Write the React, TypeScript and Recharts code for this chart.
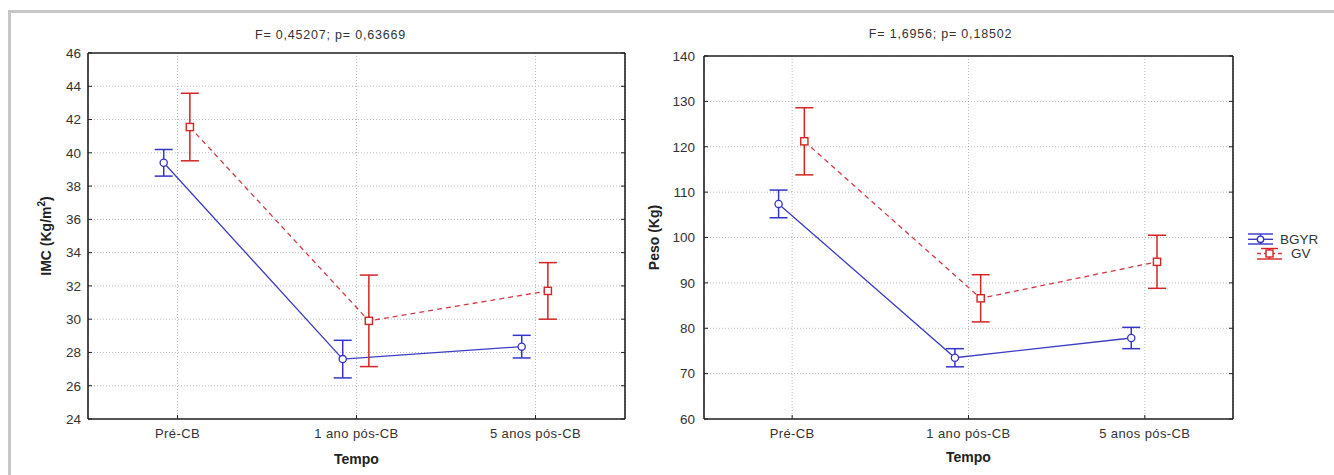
import React from 'react';
import {
  ComposedChart,
  Line,
  XAxis,
  YAxis,
  CartesianGrid,
  ErrorBar,
  Legend,
} from 'recharts';

const categories = ['Pré-CB', '1 ano pós-CB', '5 anos pós-CB'];
const seriesNames = ['BGYR', 'GV'];

const imcBGYR = [39.4, 27.6, 28.35];
const imcBGYRErr = [0.8, 1.13, 0.68];
const imcGV = [41.55, 29.9, 31.7];
const imcGVErr = [2.03, 2.75, 1.7];

const pesoBGYR = [107.4, 73.5, 77.85];
const pesoBGYRErr = [3.05, 2.0, 2.35];
const pesoGV = [121.2, 86.6, 94.65];
const pesoGVErr = [7.4, 5.2, 5.85];

const imcTicks = [24, 26, 28, 30, 32, 34, 36, 38, 40, 42, 44, 46];
const pesoTicks = [60, 70, 80, 90, 100, 110, 120, 130, 140];

const imcTitle = 'F= 0,45207; p= 0,63669';
const pesoTitle = 'F= 1,6956; p= 0,18502';

const FONT = "'Liberation Sans', Arial, sans-serif";
const BLUE = '#3c3cc4';
const BLUE_BAR = '#3434cc';
const RED = '#cf3a48';
const RED_BAR = '#d42424';
const AXIS = '#222';

const OFF_B = -0.077;
const OFF_G = 0.069;

const build = (vals: number[], errs: number[], off: number) =>
  categories.map((c, i) => ({ x: i + off, y: vals[i], err: errs[i], cat: c }));

const CircleDot = (p: any) => (
  <circle key={`c-${p.index}`} cx={p.cx} cy={p.cy} r={3.6} fill="#fff" stroke={BLUE_BAR} strokeWidth={1.3} />
);
const SquareDot = (p: any) => (
  <rect key={`s-${p.index}`} x={p.cx - 3.6} y={p.cy - 3.6} width={7.2} height={7.2} fill="#fff" stroke={RED_BAR} strokeWidth={1.4} />
);

const LegendContent = () => (
  <svg width={80} height={36} style={{ display: 'block', overflow: 'visible' }}>
    <g stroke={BLUE_BAR} strokeWidth={1.4}>
      <line x1={2} y1={6} x2={27} y2={6} />
      <line x1={2} y1={16} x2={27} y2={16} />
      <line x1={14.5} y1={6} x2={14.5} y2={16} />
      <line x1={2} y1={11.3} x2={27} y2={11.3} stroke={BLUE} />
      <circle cx={14.5} cy={11.3} r={3.2} fill="#fff" />
    </g>
    <text x={34} y={16} fontSize={13.5} fill="#333" fontFamily={FONT}>{seriesNames[0]}</text>
    <g stroke={RED_BAR} strokeWidth={1.4}>
      <line x1={15} y1={20.5} x2={32} y2={20.5} />
      <line x1={11} y1={31} x2={36} y2={31} />
      <line x1={23.5} y1={20.5} x2={23.5} y2={31} />
      <line x1={11} y1={25.5} x2={36} y2={25.5} stroke={RED} strokeDasharray="4 3" />
      <rect x={20} y={22} width={7} height={7} fill="#fff" />
    </g>
    <text x={45} y={30} fontSize={13.5} fill="#333" fontFamily={FONT}>{seriesNames[1]}</text>
  </svg>
);

type PanelProps = {
  width: number;
  left: number;
  margin: { top: number; right: number; bottom: number; left: number };
  ticks: number[];
  b: number[]; bErr: number[]; g: number[]; gErr: number[];
  title: string; titleDx: number; titleOffset: number;
  yLabel: React.ReactNode; yLabelX: number;
  tickMarginY: number;
  tempoOffset: number;
  legend?: boolean;
};

const Panel = (p: PanelProps) => {
  const domain: [number, number] = [p.ticks[0], p.ticks[p.ticks.length - 1]];
  const dataB = build(p.b, p.bErr, OFF_B);
  const dataG = build(p.g, p.gErr, OFF_G);
  const YLab = (lp: any) => {
    const vb = lp.viewBox || {};
    const cy = vb.y + vb.height / 2;
    const cx = p.yLabelX;
    return (
      <text
        x={cx}
        y={cy}
        transform={`rotate(-90, ${cx}, ${cy})`}
        textAnchor="middle"
        fontSize={14}
        fontWeight="bold"
        fill="#222"
        fontFamily={FONT}
      >
        {p.yLabel}
      </text>
    );
  };
  return (
    <div style={{ position: 'absolute', left: p.left, top: 0 }}>
      <ComposedChart width={p.width} height={475} margin={p.margin} style={{ fontFamily: FONT }}>
        <CartesianGrid stroke="#b8b8b8" strokeDasharray="1 2" />
        <XAxis
          type="number"
          dataKey="x"
          domain={[-0.5, 2.5]}
          ticks={[0, 1, 2]}
          tickFormatter={(v: number) => categories[Math.round(v)]}
          height={30}
          tickSize={-4}
          tickMargin={14}
          axisLine={{ stroke: AXIS, strokeWidth: 1.6 }}
          tickLine={{ stroke: AXIS }}
          tick={{ fill: '#333', fontSize: 13, letterSpacing: 0.4 }}
          allowDataOverflow
          label={{ value: 'Tempo', position: 'bottom', offset: p.tempoOffset, fontSize: 14, fontWeight: 'bold', fill: '#222' }}
        />
        <XAxis
          xAxisId="top"
          orientation="top"
          type="number"
          domain={[-0.5, 2.5]}
          ticks={[0, 1, 2]}
          tickFormatter={() => ''}
          height={1}
          tickSize={-4}
          axisLine={{ stroke: AXIS, strokeWidth: 1.6 }}
          tickLine={{ stroke: AXIS }}
          allowDataOverflow
          label={{ value: p.title, position: 'top', offset: p.titleOffset, dx: p.titleDx, fontSize: 12.5, fill: '#333', letterSpacing: 0.8 }}
        />
        <YAxis
          type="number"
          domain={domain}
          ticks={p.ticks}
          width={60}
          tickSize={-4}
          tickMargin={p.tickMarginY}
          axisLine={{ stroke: AXIS, strokeWidth: 1.6 }}
          tickLine={{ stroke: AXIS }}
          tick={{ fill: '#333', fontSize: 13.5 }}
          allowDataOverflow
          label={<YLab />}
        />
        <YAxis
          yAxisId="right"
          orientation="right"
          type="number"
          domain={domain}
          ticks={p.ticks}
          width={1}
          tickSize={-4}
          tickFormatter={() => ''}
          axisLine={{ stroke: AXIS, strokeWidth: 1.6 }}
          tickLine={{ stroke: AXIS }}
          allowDataOverflow
        />
        <Line
          data={dataB}
          dataKey="y"
          name={seriesNames[0]}
          stroke={BLUE}
          strokeWidth={1.3}
          dot={CircleDot}
          activeDot={false}
          isAnimationActive={false}
        >
          <ErrorBar dataKey="err" width={9} stroke={BLUE_BAR} strokeWidth={1.5} direction="y" />
        </Line>
        <Line
          data={dataG}
          dataKey="y"
          name={seriesNames[1]}
          stroke={RED}
          strokeWidth={1.3}
          strokeDasharray="5 4"
          dot={SquareDot}
          activeDot={false}
          isAnimationActive={false}
        >
          <ErrorBar dataKey="err" width={9} stroke={RED_BAR} strokeWidth={1.5} direction="y" />
        </Line>
        {p.legend && (
          <Legend
            layout="vertical"
            align="center"
            verticalAlign="middle"
            content={<LegendContent />}
            wrapperStyle={{ left: 606, top: 228, width: 80, height: 36 }}
          />
        )}
      </ComposedChart>
    </div>
  );
};

export default function App() {
  return (
    <div style={{ position: 'absolute', left: 0, top: 0, width: 1334, height: 475, background: '#fff', overflow: 'hidden' }}>
      <div
        style={{
          position: 'absolute',
          left: 8,
          top: 10,
          width: 1400,
          height: 600,
          borderTop: '3px solid #c6c6c6',
          borderLeft: '3px solid #c6c6c6',
        }}
      />
      <Panel
        width={640}
        left={0}
        margin={{ top: 52, right: 14, bottom: 26, left: 28 }}
        ticks={imcTicks}
        b={imcBGYR}
        bErr={imcBGYRErr}
        g={imcGV}
        gErr={imcGVErr}
        title={imcTitle}
        titleDx={-26}
        titleOffset={13.5}
        yLabel={<>IMC (Kg/m<tspan dy={-6} fontSize={10}>2</tspan><tspan dy={6}>)</tspan></>}
        yLabelX={51}
        tickMarginY={11}
        tempoOffset={5}
      />
      <Panel
        width={694}
        left={640}
        margin={{ top: 55, right: 100, bottom: 26, left: 4 }}
        ticks={pesoTicks}
        b={pesoBGYR}
        bErr={pesoBGYRErr}
        g={pesoGV}
        gErr={pesoGVErr}
        title={pesoTitle}
        titleDx={-28}
        titleOffset={17}
        yLabel={<>Peso (Kg)</>}
        yLabelX={19}
        tickMarginY={13}
        tempoOffset={3.5}
        legend
      />
    </div>
  );
}
